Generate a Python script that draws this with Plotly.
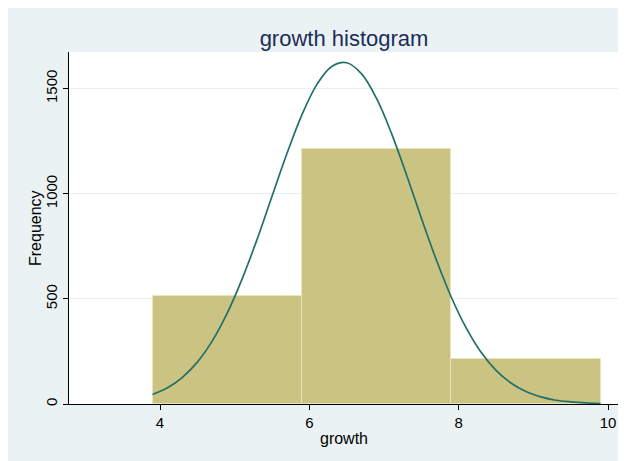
import plotly.graph_objects as go

# Histogram bins (left edges), widths and frequencies
bin_left = [3.9, 5.9, 7.9]
bin_width = [2.0, 2.0, 2.0]
frequency = [512, 1212, 215]

# Normal density overlay
curve_x = [3.9, 4.1, 4.3, 4.5, 4.7, 4.9, 5.1, 5.3, 5.5, 5.7, 5.9, 6.1, 6.3,
           6.5, 6.7, 6.9, 7.1, 7.3, 7.5, 7.7, 7.9, 8.1, 8.3, 8.5, 8.7, 8.9,
           9.1, 9.3, 9.5, 9.7, 9.9]
curve_y = [45, 77, 127, 199, 300, 432, 595, 783, 988, 1191, 1375, 1519, 1605,
           1623, 1570, 1453, 1287, 1091, 884, 686, 509, 362, 246, 160, 100, 59,
           34, 18, 10, 5, 2]

x_ticks = [4, 6, 8, 10]
y_ticks = [0, 500, 1000, 1500]

W, H = 626, 461
ML, MR, MT, MB = 61, 15, 44, 65
PW, PH = W - ML - MR, H - MT - MB

centers = [l + w / 2 for l, w in zip(bin_left, bin_width)]

fig = go.Figure()
fig.add_trace(go.Bar(
    x=centers, y=frequency, width=bin_width,
    marker=dict(color="#cbc382", line=dict(color="#e8e4bc", width=1)),
    showlegend=False, hoverinfo="skip",
))
fig.add_trace(go.Scatter(
    x=curve_x, y=curve_y, mode="lines",
    line=dict(color="#22706a", width=1.7, shape="spline", smoothing=1.0),
    showlegend=False, hoverinfo="skip",
))

font = "Liberation Sans, Arial, sans-serif"

fig.add_annotation(
    text="Frequency", textangle=-90,
    xref="paper", yref="paper",
    x=(27 - ML) / PW, y=0.5, xanchor="center", yanchor="middle",
    showarrow=False, font=dict(family=font, size=16, color="#000000"),
)

fig.update_layout(
    width=W, height=H,
    margin=dict(l=ML, r=MR, t=MT, b=MB, pad=0),
    paper_bgcolor="#eaf2f3",
    plot_bgcolor="white",
    bargap=0,
    font=dict(family=font, size=15, color="#000000"),
    title=dict(text="growth histogram", x=(ML + PW / 2) / W,
               xanchor="center", y=1 - 30 / H, yanchor="middle",
               font=dict(family=font, size=22, color="#1c2d5a")),
    xaxis=dict(
        range=[2.781, 10.147], tickvals=x_ticks, ticktext=[str(v) for v in x_ticks],
        showgrid=False, zeroline=False,
        showline=True, linecolor="#000000", linewidth=1,
        ticks="outside", ticklen=5, tickcolor="#000000",
        tickfont=dict(family=font, size=15),
        title=dict(text="growth", font=dict(family=font, size=16), standoff=2),
    ),
    yaxis=dict(
        range=[0, 1674], tickvals=y_ticks, ticktext=[str(v) for v in y_ticks],
        showgrid=True, gridcolor="#e6eff2", gridwidth=1,
        zeroline=False,
        showline=True, linecolor="#000000", linewidth=1,
        ticks="outside", ticklen=5, tickcolor="#000000",
        tickangle=-90,
        tickfont=dict(family=font, size=15),
    ),
)

fig.write_html("out.html")
